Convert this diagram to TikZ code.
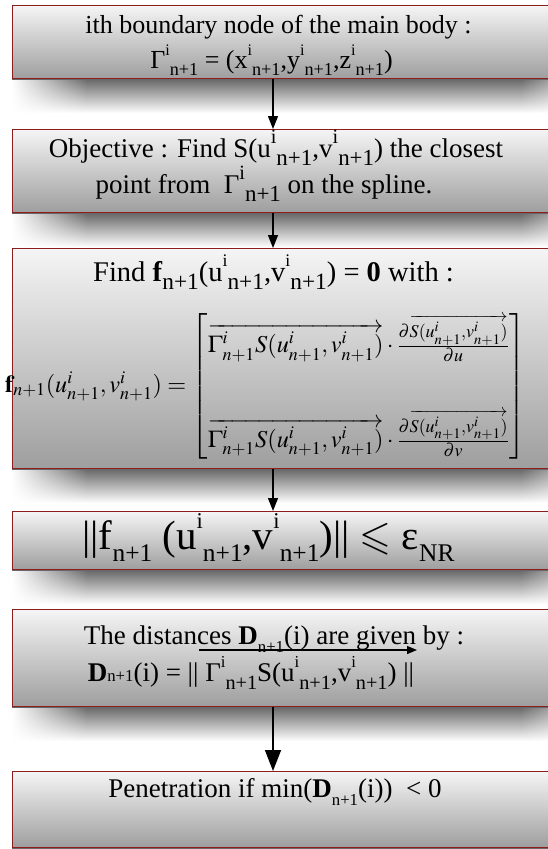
\documentclass[tikz,border=0pt]{standalone}
\usepackage{amsmath}
\usepackage{mathptmx}
\usepackage{amssymb}
\usepackage{fontspec}
\setmainfont{Liberation Serif}
\usetikzlibrary{fadings,arrows.meta}
\definecolor{boxred}{RGB}{140,30,30}
\tikzfading[name=fadeR, left color=transparent!0, right color=transparent!100]
\tikzfading[name=fadeL, left color=transparent!100, right color=transparent!0]
\newcommand\SU[2][0.62]{\raisebox{0.5em}{\scalebox{#1}{#2}}}
\newcommand\SD[2][0.7]{\raisebox{-0.3em}{\scalebox{#1}{#2}}}
\newcommand\myGS{\Gamma^i_{n+1}S(u^i_{n+1},v^i_{n+1})}
\newcommand\mySS{S(u^i_{n+1},v^i_{n+1})}
\begin{document}
\begin{tikzpicture}[x=1pt,y=-1pt,
  box/.style={draw=boxred, line width=1.1pt, top color=black!4, bottom color=black!38,
    rectangle, inner sep=0pt, anchor=north west, minimum width=560pt},
  shd/.style={top color=black!58, middle color=black!20, bottom color=white},
  txt/.style={anchor=base, inner sep=0pt, font=\fontsize{26}{30}\selectfont},
  arr/.style={-{Triangle[length=13pt,width=10pt]}, line width=1.3pt},
  bigarr/.style={-{Triangle[length=21pt,width=16pt]}, line width=1.5pt},
]
\useasboundingbox (0,0) rectangle (548,849);
\clip (0,0) rectangle (548,849);
\fill[white] (0,0) rectangle (548,849);
\coordinate (ax) at (273,0);
% boxes
\node[box, minimum height=73pt] (b1) at (12,5) {};
\node[box, minimum height=83pt] (b2) at (12,129) {};
\node[box, minimum height=220pt] (b3) at (12,248) {};
\node[box, minimum height=58pt] (b4) at (12,511) {};
\node[box, minimum height=97pt] (b5) at (12,609) {};
\node[box, minimum height=76pt] (b6) at (12,771) {};
% shadows
\foreach \b in {b1,b2,b3,b4,b5,b6}{
  \shade[shd] ([yshift=-0.6pt]\b.south west) rectangle ([yshift=-34pt]\b.south east);
  \fill[white, path fading=fadeR] ([yshift=-0.6pt]\b.south west) rectangle ([xshift=75pt,yshift=-35pt]\b.south west);
  \fill[white, path fading=fadeL] ([xshift=-52pt,yshift=-0.6pt]\b.south east) rectangle ([xshift=28pt,yshift=-35pt]\b.south east);
}
% texts
\node[txt] (t1a) at (278.5,33) {ith boundary node of the main body :};
\node[txt] (t1b) at (271.5,68) {Γ\SU{i}\SD{n+1} = (x\SU{i}\SD{n+1},y\SU{i}\SD{n+1},z\SU{i}\SD{n+1})};
\node[txt, font=\fontsize{27}{30}\selectfont] (t2a) at (276,157) {Objective : Find S(u\SU[0.75]{i}\SD[0.85]{n+1},v\SU[0.75]{i}\SD[0.85]{n+1}) the closest};
\node[txt, font=\fontsize{27}{30}\selectfont] (t2b) at (264,193) {point from ~Γ\SU[0.75]{i}\SD[0.85]{n+1} on the spline.};
\node[txt, font=\fontsize{28.5}{30}\selectfont] (t3a) at (273.5,281) {Find \textbf{f}\SD[0.82]{n+1}(u\SU{i}\SD[0.82]{n+1},v\SU{i}\SD[0.82]{n+1}) = \textbf{0} with :};
\node[anchor=west, inner sep=0pt] (eq) at (5,386) {\resizebox{520pt}{!}{\fontsize{20}{24}\selectfont
  $\mathbf{f}_{n+1}(u^i_{n+1},v^i_{n+1}) =
  \begin{bmatrix}
  \overrightarrow{\myGS}\cdot\frac{\partial\overrightarrow{\mySS}}{\partial u}\\[40pt]
  \overrightarrow{\myGS}\cdot\frac{\partial\overrightarrow{\mySS}}{\partial v}
  \end{bmatrix}$}};
\node[txt, font=\fontsize{41}{46}\selectfont] (t4) at (268.5,549) {||f\SD[0.62]{n+1} (u\SU[0.55]{i}\SD[0.62]{n+1},v\SU[0.55]{i}\SD[0.62]{n+1})|| $\leqslant$ ε\SD[0.62]{NR}};
\node[txt, font=\fontsize{27}{30}\selectfont] (t5a) at (274,644) {The distances \textbf{D}\SD[0.62]{n+1}(i) are given by :};
\node[txt, font=\fontsize{27}{30}\selectfont] (t5b) at (251,681) {\textbf{D}\scalebox{0.62}{n+1}(i) = || Γ\SU{i}\SD[0.75]{n+1}S(u\SU{i}\SD[0.75]{n+1},v\SU{i}\SD[0.75]{n+1}) ||};
\node[txt, font=\fontsize{27}{30}\selectfont] (t6) at (275,797.5) {Penetration if min(\textbf{D}\SD[0.62]{n+1}(i)) ~< 0};
% vector arrow in box 5
\coordinate (v1) at (199,650);
\coordinate (v2) at (417,650);
\draw[-{Triangle[length=10pt,width=8pt]}, line width=1.2pt] (v1) -- (v2);
% connectors
\draw[arr] (b1.south -| ax) -- (b2.north -| ax);
\draw[arr] (b2.south -| ax) -- (b3.north -| ax);
\draw[arr] (b3.south -| ax) -- (b4.north -| ax);
\draw[bigarr] (b5.south -| ax) -- (b6.north -| ax);
\end{tikzpicture}
\end{document}
